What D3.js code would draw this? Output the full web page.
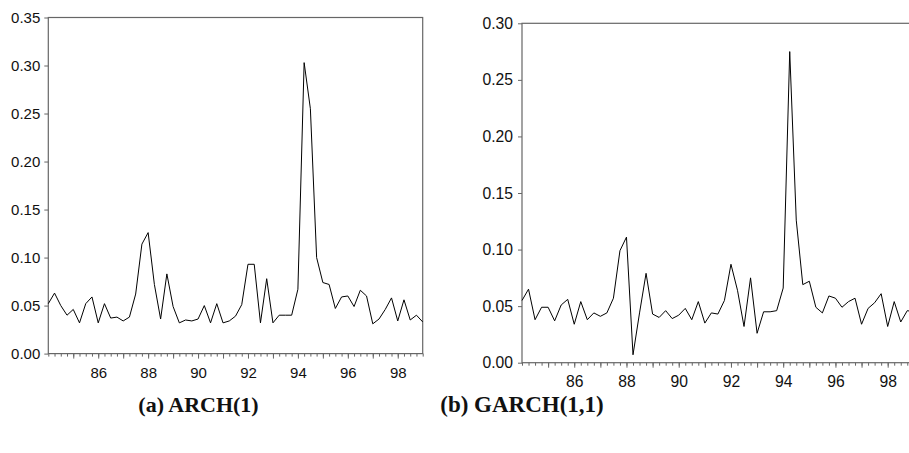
<!DOCTYPE html>
<html>
<head>
<meta charset="utf-8">
<script src="https://cdn.jsdelivr.net/npm/d3@7"></script>
<style>
    body { margin: 0; background: #fff; }
    svg { display: block; }
    .axis path, .axis line { stroke: #666; }
    .axis text { fill: #111; font-family: "Liberation Sans", Arial, sans-serif; }
    .caption { font-family: "Liberation Serif", "Times New Roman", serif; font-weight: bold; fill: #111; }
</style>
</head>
<body>
<svg id="chart" width="909" height="453"></svg>
<script>
// quarterly observations, first one is 1984Q1
const startYear = 1984;
const endYear = 1999;

// (a) ARCH(1) conditional variance
const archValues = [
    0.052, 0.063, 0.050, 0.040, 0.046, 0.032, 0.052, 0.059, 0.032, 0.052,
    0.037, 0.038, 0.034, 0.038, 0.062, 0.114, 0.126, 0.072, 0.036, 0.083,
    0.049, 0.032, 0.035, 0.034, 0.036, 0.050, 0.032, 0.052, 0.032, 0.034,
    0.039, 0.051, 0.093, 0.093, 0.032, 0.078, 0.032, 0.040, 0.040, 0.040,
    0.067, 0.303, 0.255, 0.100, 0.074, 0.072, 0.047, 0.059, 0.060, 0.049,
    0.066, 0.060, 0.031, 0.036, 0.046, 0.058, 0.034, 0.056, 0.035, 0.040,
    0.033
];

// (b) GARCH(1,1) conditional variance
const garchValues = [
    0.055, 0.065, 0.038, 0.049, 0.049, 0.037, 0.051, 0.056, 0.034, 0.054,
    0.038, 0.044, 0.041, 0.044, 0.057, 0.099, 0.111, 0.007, 0.044, 0.079,
    0.043, 0.040, 0.046, 0.039, 0.042, 0.048, 0.038, 0.054, 0.035, 0.044,
    0.043, 0.055, 0.087, 0.064, 0.032, 0.075, 0.026, 0.045, 0.045, 0.046,
    0.066, 0.275, 0.126, 0.069, 0.072, 0.049, 0.044, 0.059, 0.057, 0.049,
    0.054, 0.057, 0.034, 0.048, 0.053, 0.061, 0.032, 0.054, 0.036, 0.046,
    0.045
];

const archTicks = [0, 0.05, 0.10, 0.15, 0.20, 0.25, 0.30, 0.35];
const garchTicks = [0, 0.05, 0.10, 0.15, 0.20, 0.25, 0.30];
const yearTicks = [1985, 1986, 1987, 1988, 1989, 1990, 1991, 1992, 1993, 1994, 1995, 1996, 1997, 1998];
const labelYears = [1986, 1988, 1990, 1992, 1994, 1996, 1998];

const svg = d3.select("#chart");

function drawPanel(values, yTicks, opt) {
    let x = d3.scaleLinear().domain([startYear, endYear]).range([opt.left, opt.right]);
    let y = d3.scaleLinear().domain([0, yTicks[yTicks.length - 1]]).range([opt.bottom, opt.top]);
    let g = svg.append("g");

    // frame
    g.append("rect")
        .attr("x", opt.left)
        .attr("y", opt.top)
        .attr("width", opt.right - opt.left)
        .attr("height", opt.bottom - opt.top)
        .attr("fill", "none")
        .attr("stroke", "#666")
        .attr("stroke-width", 1.2);

    // y axis
    let yAxis = g.append("g")
        .attr("class", "axis")
        .attr("transform", `translate(${opt.left},0)`)
        .call(d3.axisLeft(y).tickValues(yTicks).tickSize(4).tickPadding(opt.yPad)
            .tickFormat(d3.format(".2f")));
    yAxis.select(".domain").remove();
    yAxis.selectAll("text").style("font-size", opt.font + "px");

    // x axis: quarterly minor ticks, yearly major ticks
    let quarters = d3.range(startYear * 4, endYear * 4 + 1).map(q => q / 4);
    let minor = g.append("g")
        .attr("class", "axis")
        .attr("transform", `translate(0,${opt.bottom})`)
        .call(d3.axisBottom(x).tickValues(quarters).tickSize(3).tickFormat(""));
    minor.select(".domain").remove();

    let major = g.append("g")
        .attr("class", "axis")
        .attr("transform", `translate(0,${opt.bottom})`)
        .call(d3.axisBottom(x).tickValues(yearTicks).tickSize(5)
            .tickFormat(d => labelYears.includes(d) ? String(d).slice(2) : ""));
    major.select(".domain").remove();
    major.selectAll("text")
        .attr("y", opt.xLabelY)
        .attr("dy", null)
        .style("font-size", opt.font + "px");

    // series
    let line = d3.line()
        .x((d, i) => x(startYear + i / 4))
        .y(d => y(d));
    g.append("path")
        .datum(values)
        .attr("d", line)
        .attr("fill", "none")
        .attr("stroke", "#000")
        .attr("stroke-width", 1)
        .attr("stroke-linejoin", "miter");

    svg.append("text")
        .attr("class", "caption")
        .attr("x", opt.captionX)
        .attr("y", 412)
        .attr("text-anchor", "middle")
        .style("font-size", opt.captionSize + "px")
        .text(opt.caption);
}

drawPanel(archValues, archTicks, {
    left: 48.3, right: 422.7, top: 17.5, bottom: 353.6,
    font: 15, yPad: 4, xLabelY: 24,
    caption: "(a) ARCH(1)", captionX: 198.5, captionSize: 22
});

drawPanel(garchValues, garchTicks, {
    left: 522, right: 913.8, top: 23.3, bottom: 362.7,
    font: 15.7, yPad: 5, xLabelY: 24.6,
    caption: "(b) GARCH(1,1)", captionX: 522, captionSize: 23
});
</script>
</body>
</html>
